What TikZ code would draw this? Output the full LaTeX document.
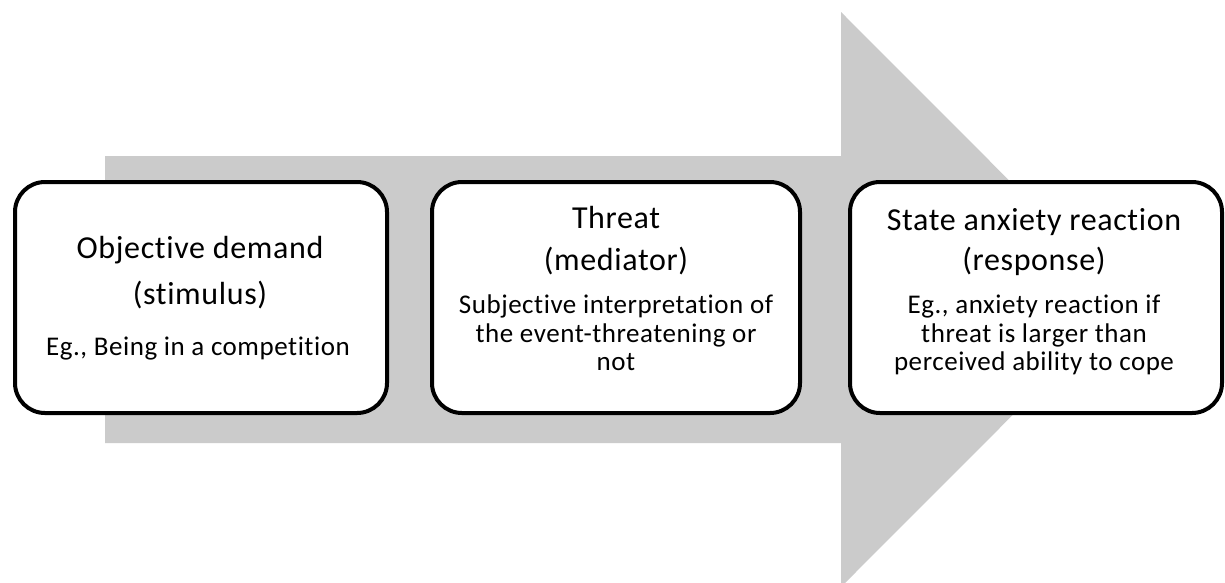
\documentclass[tikz,border=0pt]{standalone}
\usepackage{fontspec}
\setmainfont{Carlito}[Ligatures=NoCommon, LetterSpace=2]
\definecolor{arrowgray}{RGB}{203,203,203}
\tikzset{
  stagebox/.style={draw=black, line width=4pt, fill=white, rounded corners=30pt,
    minimum width=372pt, minimum height=231pt, inner sep=0pt},
  bigtext/.style={anchor=base, inner sep=0pt, font=\fontsize{32}{36}\selectfont},
  smalltext/.style={anchor=base, inner sep=0pt, font=\fontsize{27}{29}\selectfont},
}
\begin{document}
\begin{tikzpicture}[x=1pt,y=-1pt]
\useasboundingbox (0,0) rectangle (1225,582);
\clip (0,0) rectangle (1225,582);
\fill[arrowgray] (105,156) -- (841,156) -- (841,12) -- (1128,299.5) -- (841,587) -- (841,443) -- (105,443) -- cycle;
\node[stagebox] (b1) at (201,297.5) {};
\node[stagebox, minimum width=368pt] (b2) at (616,297.5) {};
\node[stagebox] (b3) at (1036,297.5) {};
% box 1
\node[bigtext] (t1a) at (200,258) {Objective demand};
\node[bigtext] (t1b) at (200,304) {(stimulus)};
\node[smalltext] (t1c) at (198,355) {Eg., Being in a competition};
% box 2
\node[bigtext] (t2a) at (616,228) {Threat};
\node[bigtext] (t2b) at (616,270) {(mediator)};
\node[smalltext] (t2c) at (616,313) {Subjective interpretation of};
\node[smalltext] (t2d) at (616,342) {the event-threatening or};
\node[smalltext] (t2e) at (616,370) {not};
% box 3
\node[bigtext] (t3a) at (1034,230) {State anxiety reaction};
\node[bigtext] (t3b) at (1034,270) {(response)};
\node[smalltext] (t3c) at (1034,313) {Eg., anxiety reaction if};
\node[smalltext] (t3d) at (1034,342) {threat is larger than};
\node[smalltext] (t3e) at (1034,370) {perceived ability to cope};
\end{tikzpicture}
\end{document}
